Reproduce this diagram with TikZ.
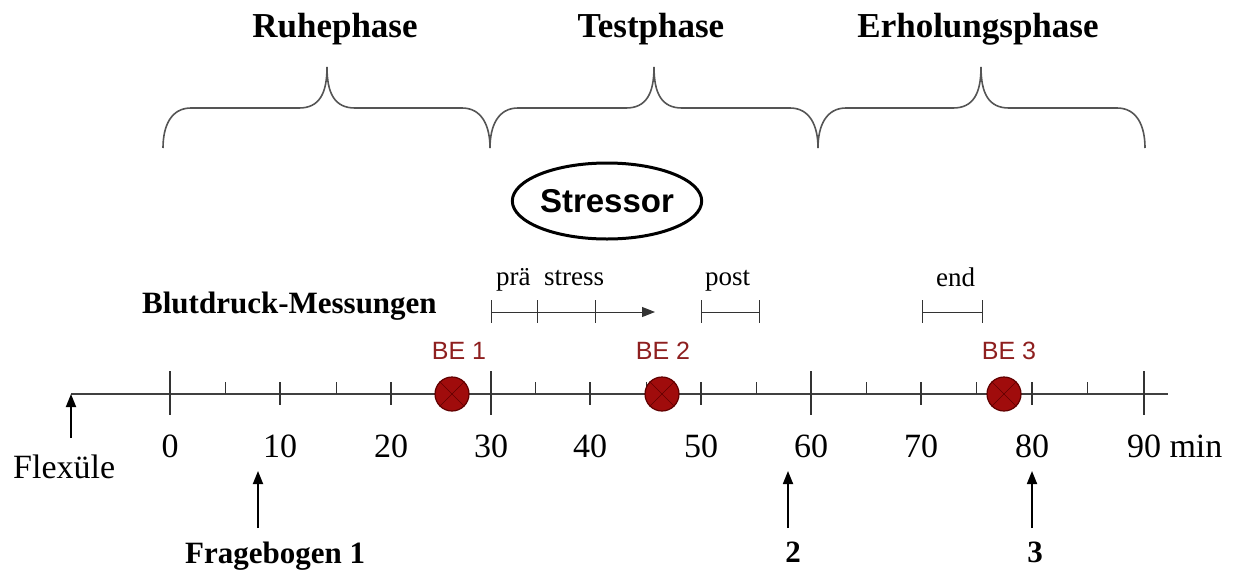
\documentclass[tikz,border=0pt]{standalone}
\usepackage{fontspec}
\setmainfont{Liberation Serif}
\newfontfamily\arialf{Liberation Sans}
\usetikzlibrary{arrows.meta,shapes.geometric}
\definecolor{bered}{HTML}{8E1F1F}
\definecolor{dotred}{HTML}{A00C0C}
\definecolor{dotedge}{HTML}{600000}
\definecolor{bracegray}{HTML}{555555}
\begin{document}
\begin{tikzpicture}[x=1pt,y=-1pt,
  title/.style={font=\fontsize{35}{40}\selectfont\bfseries, inner sep=0pt, anchor=base},
  num/.style={font=\fontsize{34}{40}\selectfont, inner sep=0pt, anchor=base},
  boldlab/.style={font=\fontsize{31}{36}\selectfont\bfseries, inner sep=0pt},
  smalllab/.style={font=\fontsize{27}{32}\selectfont, inner sep=0pt, anchor=base west},
  belab/.style={font=\arialf\fontsize{25}{30}\selectfont, text=bered, inner sep=0pt, anchor=base},
  dot/.style={circle, fill=dotred, draw=dotedge, line width=1.2pt, minimum size=34pt, inner sep=0pt},
  bracepath/.style={draw=bracegray, line width=1.6pt},
  axisline/.style={line width=1.3pt, draw=black!75},
  ticklong/.style={line width=1.3pt, draw=black!80},
  interval/.style={line width=1pt, draw=black!80},
  uparrow/.style={line width=1.8pt, -{Triangle[length=13pt,width=10pt]}},
]
\useasboundingbox (0,0) rectangle (1234,571);

% phase titles
\node[title] (ruhe) at (335,37) {Ruhephase};
\node[title] (test) at (651,37) {Testphase};
\node[title] (erh) at (978,37) {Erholungsphase};

% braces
\foreach \a/\t/\b in {163/327/490, 490/654/818, 818/981/1145}{
  \draw[bracepath] (\a,148) .. controls (\a,126) and ({\a+8},108) .. ({\a+28},108)
     -- ({\t-28},108) .. controls ({\t-8},108) and (\t,94) .. (\t,67)
     .. controls (\t,94) and ({\t+8},108) .. ({\t+28},108)
     -- ({\b-28},108) .. controls ({\b-8},108) and (\b,126) .. (\b,148);
}

% stressor
\node[ellipse, draw, line width=3pt, minimum width=189pt, minimum height=76pt,
      font=\arialf\bfseries\fontsize{33}{38}\selectfont, inner sep=0pt] (stressor) at (607,201) {Stressor};

% Blutdruck-Messungen
\node[boldlab, anchor=base west] (bdm) at (142,313) {Blutdruck-Messungen};
\node[smalllab] (prae) at (496,285) {prä};
\node[smalllab] (stress) at (544,285) {stress};
\node[smalllab] (post) at (705,285) {post};
\node[smalllab] (end) at (936,286) {end};

\coordinate (m0) at (491,312);
\coordinate (m1) at (537,312);
\coordinate (m2) at (595,312);
\coordinate (m3) at (655,312);
\draw[interval] (m0) -- (m2);
\draw[interval, -{Triangle[length=13pt,width=10pt]}] (m2) -- (m3);
\foreach \x in {491,537,595,701,759,922,982}{
  \draw[interval] (\x,300) -- (\x,323);
}
\coordinate (p0) at (701,312);
\coordinate (p1) at (759,312);
\draw[interval] (p0) -- (p1);
\coordinate (e0) at (922,312);
\coordinate (e1) at (982,312);
\draw[interval] (e0) -- (e1);

% axis
\coordinate (axstart) at (71,394);
\coordinate (axend) at (1168,394);
\draw[axisline] (axstart) -- (axend);
\foreach \x in {170,491,811,1144}{
  \draw[ticklong] (\x,371) -- (\x,415);
}
\foreach \x in {280,391,590,701,921,1032}{
  \draw[ticklong] (\x,382) -- (\x,405);
}
\foreach \x in {225,336,441,535,646,756,866,976,1087}{
  \draw[ticklong, line width=1pt] (\x,382) -- (\x,394);
}

% numbers
\foreach \v/\x in {0/170,10/280,20/391,30/491,40/590,50/701,60/811,70/921,80/1032}{
  \node[num] (n\v) at (\x,457) {\v};
}
\node[num] (n90) at (1144,457) {90\rlap{ min}};

% BE markers
\node[belab] (be1) at (459,359) {BE 1};
\node[belab] (be2) at (663,359) {BE 2};
\node[belab] (be3) at (1009,359) {BE 3};
\foreach \n/\x in {1/452,2/662,3/1004}{
  \node[dot] (d\n) at (\x,394) {};
  \draw[dotedge, line width=0.6pt] (d\n.north west) -- (d\n.south east);
  \draw[dotedge, line width=0.6pt] (d\n.north east) -- (d\n.south west);
}

% Flexuele
\node[num, anchor=base west] (flex) at (13,478) {Flexüle};
\coordinate (flexarr) at (71,438);
\draw[uparrow] (flexarr) -- (axstart);

% Fragebogen
\node[boldlab, anchor=base west] (fb1) at (185,563) {Fragebogen 1};
\node[boldlab, anchor=base] (fb2) at (793,562) {2};
\node[boldlab, anchor=base] (fb3) at (1035,562) {3};
\coordinate (f1s) at (258,528);
\coordinate (f1e) at (258,471);
\coordinate (f2s) at (788,528);
\coordinate (f2e) at (788,471);
\coordinate (f3s) at (1032,528);
\coordinate (f3e) at (1032,471);
\draw[uparrow] (f1s) -- (f1e);
\draw[uparrow] (f2s) -- (f2e);
\draw[uparrow] (f3s) -- (f3e);
\end{tikzpicture}
\end{document}
